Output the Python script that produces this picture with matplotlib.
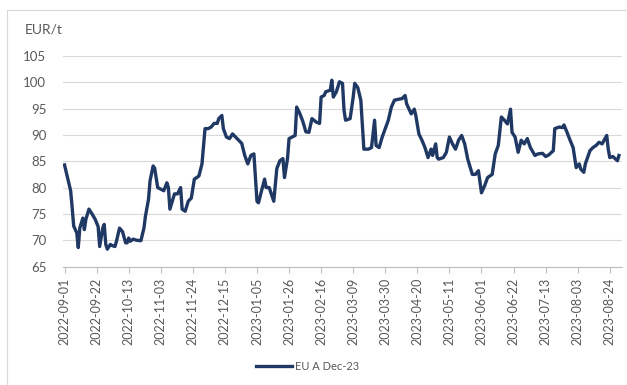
import pandas as pd
import matplotlib
matplotlib.use("Agg")
import matplotlib.pyplot as plt
import matplotlib.dates as mdates
from matplotlib.lines import Line2D

plt.rcParams['font.family'] = ['Lato', 'DejaVu Sans']

# EUA Dec-23 Preise (EUR/t), Tage seit 2022-09-01
start = pd.Timestamp("2022-09-01")
day_offsets = [
    0, 4, 5, 6, 8, 9, 10, 12, 13, 14, 16, 18, 20, 22, 23, 25, 26, 27, 28, 30,
    31, 33, 34, 36, 38, 40, 41, 42, 43, 45, 47, 50, 52, 53, 55, 56, 58, 59, 61, 65,
    67, 68, 69, 71, 72, 74, 76, 77, 79, 81, 83, 85, 88, 90, 92, 94, 96, 98, 100, 101,
    103, 104, 106, 108, 110, 112, 114, 116, 118, 120, 122, 124, 126, 127, 129, 131, 132, 134, 137, 139,
    141, 143, 144, 146, 147, 149, 151, 152, 154, 156, 158, 160, 162, 165, 167, 168, 170, 171, 174, 175,
    176, 178, 180, 182, 183, 184, 187, 189, 190, 192, 194, 196, 199, 201, 203, 204, 206, 208, 210, 212,
    214, 216, 219, 221, 223, 224, 227, 229, 230, 232, 234, 236, 238, 240, 241, 243, 244, 245, 248, 250,
    252, 254, 256, 258, 260, 262, 264, 267, 269, 271, 273, 275, 277, 280, 282, 284, 286, 288, 290, 292,
    293, 295, 297, 299, 301, 303, 305, 308, 310, 313, 315, 317, 320, 321, 324, 326, 327, 329, 331, 333,
    335, 337, 338, 340, 341, 344, 346, 348, 350, 352, 355, 356, 357, 359, 362, 363,
]
prices = [
    84.3, 79.4, 76.2, 72.7, 71.4, 68.6, 72.3, 74.2, 72.0, 74.0, 75.9, 75.0, 74.0, 72.6, 68.8, 72.3, 73.0, 69.2, 68.3, 69.2,
    69.0, 68.8, 69.8, 72.3, 71.6, 69.5, 69.5, 70.4, 69.8, 70.2, 70.0, 69.9, 72.3, 74.6, 77.8, 81.3, 84.1, 83.7, 80.0, 79.4,
    80.9, 80.0, 75.9, 77.8, 78.8, 78.8, 80.0, 75.9, 75.5, 77.4, 78.0, 81.6, 82.2, 84.5, 91.2, 91.2, 91.5, 92.2, 92.2, 93.1,
    93.7, 91.2, 89.6, 89.3, 90.2, 89.6, 89.0, 88.4, 86.1, 84.5, 86.1, 86.4, 77.4, 77.1, 79.4, 81.6, 80.0, 80.0, 77.4, 83.6,
    85.1, 85.5, 81.9, 85.5, 89.3, 89.6, 89.9, 95.3, 94.1, 92.6, 90.6, 90.5, 93.1, 92.4, 92.2, 97.2, 97.5, 98.2, 98.5, 100.4,
    97.2, 98.2, 100.1, 99.8, 94.7, 92.8, 93.1, 97.2, 99.8, 99.0, 96.6, 87.3, 87.3, 87.6, 92.8, 88.0, 87.6, 89.6, 91.2, 92.8,
    95.3, 96.6, 96.8, 96.9, 97.5, 95.9, 94.0, 94.9, 93.7, 90.2, 89.0, 87.6, 85.7, 87.3, 86.1, 88.3, 85.7, 85.4, 85.7, 86.7,
    89.6, 88.3, 87.3, 89.0, 89.9, 88.3, 85.4, 82.5, 82.5, 83.2, 79.0, 80.3, 81.9, 82.5, 86.4, 88.0, 93.4, 92.8, 92.1, 94.9,
    90.5, 89.6, 86.7, 89.0, 88.3, 89.3, 87.6, 86.1, 86.4, 86.5, 85.9, 86.2, 87.0, 91.2, 91.5, 91.4, 91.9, 90.5, 89.0, 87.6,
    83.8, 84.5, 83.5, 82.9, 84.5, 87.0, 87.6, 88.0, 88.6, 88.3, 89.9, 87.3, 85.7, 85.9, 85.1, 86.1,
]
dates = start + pd.to_timedelta(day_offsets, unit="D")
tick_dates = pd.date_range("2022-09-01", "2023-08-24", freq="21D")

W, H = 627, 385
fig = plt.figure(figsize=(W / 100, H / 100), dpi=100)
ax = fig.add_axes([63 / W, 1 - 266.5 / H, (622 - 63) / W, (266.5 - 56) / H])

ax.plot(dates, prices, color="#1F3864", lw=2.4, label="EU A Dec-23",
        solid_joinstyle="round")

ax.set_xlim(start - pd.Timedelta(days=1), start + pd.Timedelta(days=365))
ax.set_ylim(65, 105)
ax.set_yticks(range(65, 106, 5))
ax.set_xticks(tick_dates)
ax.xaxis.set_major_formatter(mdates.DateFormatter("%Y-%m-%d"))
plt.setp(ax.get_xticklabels(), rotation=90)

# Gitter und Achsen im Excel-Stil
ax.grid(axis="y", color="#D9D9D9", lw=0.8)
ax.set_axisbelow(True)
for side in ["left", "right", "top"]:
    ax.spines[side].set_visible(False)
ax.spines["bottom"].set_color("#BFBFBF")
ax.tick_params(axis="y", length=0, labelsize=9.5, labelcolor="#595959", pad=12)
ax.tick_params(axis="x", length=4, color="#BFBFBF", labelsize=9,
               labelcolor="#595959", pad=4)

fig.text(25 / W, 1 - 30 / H, "EUR/t", fontsize=10, color="#595959",
         ha="left", va="center")

fig.legend(loc="center", bbox_to_anchor=(308 / W, 1 - 366 / H), frameon=False,
           fontsize=8, labelcolor="#595959", handlelength=3.2, handletextpad=0.3)

# Rahmen um das Diagramm
fig.add_artist(Line2D([7 / W, 1], [1 - 10 / H, 1 - 10 / H], color="#D9D9D9", lw=0.8))
fig.add_artist(Line2D([7 / W, 7 / W], [0, 1 - 10 / H], color="#D9D9D9", lw=0.8))

fig.savefig("out.png", dpi=100)
